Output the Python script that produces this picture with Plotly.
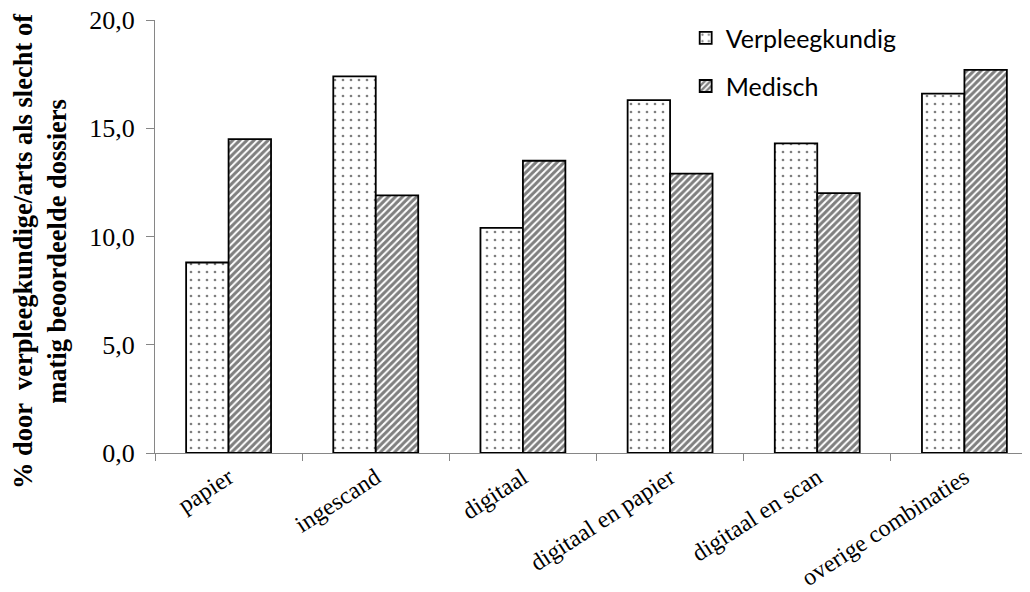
import plotly.graph_objects as go

categories = ["papier", "ingescand", "digitaal", "digitaal en papier", "digitaal en scan", "overige combinaties"]
verpleegkundig = [8.8, 17.4, 10.4, 16.3, 14.3, 16.6]
medisch = [14.5, 11.9, 13.5, 12.9, 12.0, 17.7]
series_names = ["Verpleegkundig", "Medisch"]
y_ticks = [0, 5, 10, 15, 20]
y_title = "<b>% door  verpleegkundige/arts als slecht of<br>matig beoordeelde dossiers</b>"

fig = go.Figure()
fig.add_trace(go.Bar(
    x=categories, y=verpleegkundig, name=series_names[0],
    marker=dict(color="white", line=dict(color="black", width=1.8),
                pattern=dict(shape=".", fgcolor="black", bgcolor="white", size=8, solidity=0.09)),
    legend="legend", showlegend=True,
))
fig.add_trace(go.Bar(
    x=categories, y=medisch, name=series_names[1],
    marker=dict(color="white", line=dict(color="black", width=1.8),
                pattern=dict(shape="/", fgcolor="black", bgcolor="white", size=5, solidity=0.6)),
    legend="legend2", showlegend=True,
))

W, H = 1030, 592
serif = "Liberation Serif, Times New Roman, serif"
legend_font = dict(family="Lato, Open Sans, sans-serif", size=25, color="black")
fig.update_layout(
    width=W, height=H,
    margin=dict(l=147, r=0, t=12, b=147),
    paper_bgcolor="white", plot_bgcolor="white",
    barmode="group", bargap=0.423, bargroupgap=0,
    separators=",.",
    font=dict(family=serif, color="black"),
    showlegend=True,
    legend=dict(x=0.601, y=0.958, xanchor="left", yanchor="middle",
                font=legend_font, bgcolor="rgba(0,0,0,0)", itemwidth=30),
    legend2=dict(x=0.601, y=0.847, xanchor="left", yanchor="middle",
                 font=legend_font, bgcolor="rgba(0,0,0,0)", itemwidth=30),
    xaxis=dict(
        range=[-0.5, 5.5], showline=True, linecolor="#868686", linewidth=1.3,
        ticks="outside", tickson="boundaries", ticklen=7, tickcolor="#868686",
        tickangle=-33, tickfont=dict(family=serif, size=24, color="black"),
        ticklabeloverflow="allow",
        showgrid=False, zeroline=False, automargin=False,
    ),
    yaxis=dict(
        range=[0, 20], tickvals=y_ticks, tickformat=".1f",
        showline=True, linecolor="#868686", linewidth=1.3,
        ticks="outside", ticklen=8, tickcolor="#868686",
        tickfont=dict(family=serif, size=26, color="black"),
        ticklabelstandoff=6, ticklabeloverflow="allow",
        showgrid=False, zeroline=False, automargin=False,
    ),
    annotations=[dict(
        text=y_title, textangle=-90, xref="paper", yref="paper",
        x=0, y=0.4665, xanchor="center", yanchor="middle", xshift=-115,
        showarrow=False, align="center",
        font=dict(family=serif, size=26.5, color="black"),
    )],
)

fig.write_html("out.html")
